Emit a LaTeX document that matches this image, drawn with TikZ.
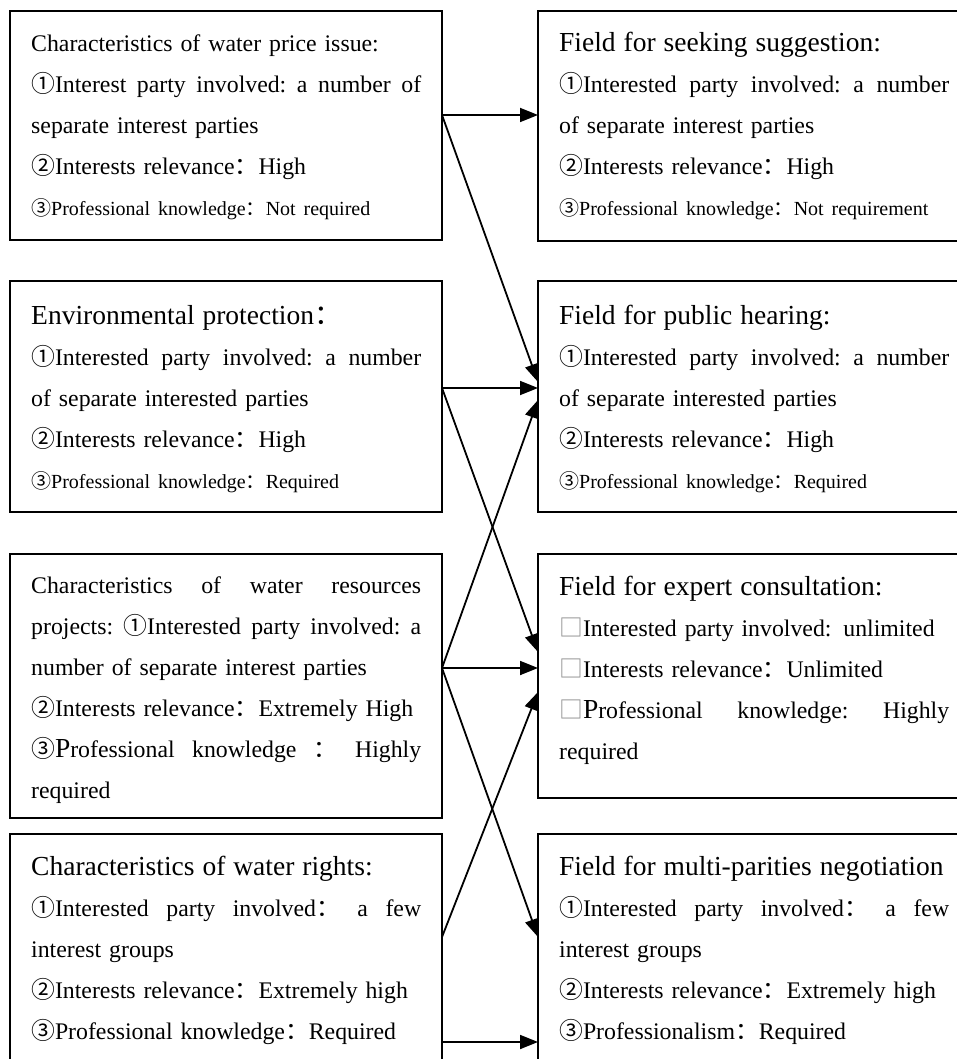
\documentclass[tikz,border=0pt]{standalone}
\usepackage{fontspec}
\setmainfont{Liberation Serif}
\newfontfamily\cjk{Noto Sans CJK SC}
\usetikzlibrary{arrows.meta,calc}
\def\cn#1{{\cjk #1}}
\def\fc{{\cjk ：}}
\def\nb{{\cjk\color{black!45}□}}
\def\jline#1{\leavevmode\hbox to 390pt{\frenchspacing\spaceskip=.25em plus 1fil\xspaceskip=\spaceskip\relax #1}}
\def\sm{\fontsize{20}{41}\selectfont}
\def\bg{\fontsize{27.5}{41}\selectfont}

\begin{document}
\begin{tikzpicture}[x=1pt,y=-1pt,
    box/.style={draw,line width=1.8pt,outer sep=0pt,inner sep=0pt,anchor=north west},
    txt/.style={anchor=base west,inner sep=0pt,text width=390pt,align=left,font=\fontsize{23.8}{41}\selectfont},
    link/.style={line width=1.8pt,-{Triangle[length=18pt,width=14pt]}}]
    %%%%% START %%%%%
    \clip (0,0) rectangle (957,1059);
    \fill[white] (0,0) rectangle (957,1059);

    %%%%% ISSUES %%%%%
    \node[box,minimum width=432pt,minimum height=229pt] (wp) at (10,11) {};
    \node[txt] (wpt) at (31,52) {Characteristics of water price issue:\\
        \jline{\cn{①}Interest party involved: a number of}\\
        separate interest parties\\
        \cn{②}Interests relevance\fc High\\
        {\sm\cn{③}Professional knowledge\fc Not required}};

    \node[box,minimum width=432pt,minimum height=231pt] (ep) at (10,281) {};
    \node[txt] (ept) at (31,324) {{\bg Environmental protection\fc}\\
        \jline{\cn{①}Interested party involved: a number}\\
        of separate interested parties\\
        \cn{②}Interests relevance\fc High\\
        {\sm\cn{③}Professional knowledge\fc Required}};

    \node[box,minimum width=432pt,minimum height=264pt] (wr) at (10,554) {};
    \node[txt] (wrt) at (31,593) {\jline{Characteristics of water resources}\\
        \jline{projects: \cn{①}Interested party involved: a}\\
        number of separate interest parties\\
        \cn{②}Interests relevance\fc Extremely High\\
        \jline{\cn{③}{\bg P}rofessional knowledge \fc{} Highly}\\
        required};

    \node[box,minimum width=432pt,minimum height=260pt] (wg) at (10,834) {};
    \node[txt] (wgt) at (31,875) {{\bg Characteristics of water rights:}\\
        \jline{\cn{①}Interested party involved\fc{} a few}\\
        interest groups\\
        \cn{②}Interests relevance\fc Extremely high\\
        \cn{③}Professional knowledge\fc Required};

    %%%%% FIELDS %%%%%
    \node[box,minimum width=440pt,minimum height=230pt] (ss) at (538,11) {};
    \node[txt] (sst) at (559,52) {{\bg Field for seeking suggestion:}\\
        \jline{\cn{①}Interested party involved: a number}\\
        of separate interest parties\\
        \cn{②}Interests relevance\fc High\\
        {\sm\cn{③}Professional knowledge\fc Not requirement}};

    \node[box,minimum width=440pt,minimum height=231pt] (ph) at (538,281) {};
    \node[txt] (pht) at (559,324) {{\bg Field for public hearing:}\\
        \jline{\cn{①}Interested party involved: a number}\\
        of separate interested parties\\
        \cn{②}Interests relevance\fc High\\
        {\sm\cn{③}Professional knowledge\fc Required}};

    \node[box,minimum width=440pt,minimum height=244pt] (ec) at (538,554) {};
    \node[txt] (ect) at (559,595) {{\bg Field for expert consultation:}\\
        \nb Interested party involved: unlimited\\
        \nb Interests relevance\fc Unlimited\\
        \jline{\nb{\bg P}rofessional knowledge: Highly}\\
        required};

    \node[box,minimum width=440pt,minimum height=260pt] (mn) at (538,834) {};
    \node[txt] (mnt) at (559,875) {{\bg Field for multi-parities negotiation}\\
        \jline{\cn{①}Interested party involved\fc{} a few}\\
        interest groups\\
        \cn{②}Interests relevance\fc Extremely high\\
        \cn{③}Professionalism\fc Required};

    %%%%% ARROWS %%%%%
    \coordinate (wpo) at ($(wp.north east)+(0,104)$);
    \coordinate (epo) at ($(ep.north east)+(0,107)$);
    \coordinate (wro) at ($(wr.north east)+(0,114)$);
    \coordinate (wgu) at ($(wg.north east)+(0,103)$);
    \coordinate (wgl) at ($(wg.north east)+(0,208)$);
    \coordinate (ssi) at ($(ss.north west)+(0,104)$);
    \coordinate (pha) at ($(ph.north west)+(0,101)$);
    \coordinate (phm) at ($(ph.north west)+(0,107)$);
    \coordinate (phb) at ($(ph.north west)+(0,119)$);
    \coordinate (eca) at ($(ec.north west)+(0,98)$);
    \coordinate (ecm) at ($(ec.north west)+(0,114)$);
    \coordinate (ecb) at ($(ec.north west)+(0,138)$);
    \coordinate (mna) at ($(mn.north west)+(0,103)$);
    \coordinate (mnl) at ($(mn.north west)+(0,208)$);

    \draw[link] (wpo) -- (ssi);
    \draw[link] (wpo) -- (pha);
    \draw[link] (epo) -- (phm);
    \draw[link] (epo) -- (eca);
    \draw[link] (wro) -- (phb);
    \draw[link] (wro) -- (ecm);
    \draw[link] (wro) -- (mna);
    \draw[link] (wgu) -- (ecb);
    \draw[link] (wgl) -- (mnl);
    %%%%% END %%%%%
\end{tikzpicture}
\end{document}
